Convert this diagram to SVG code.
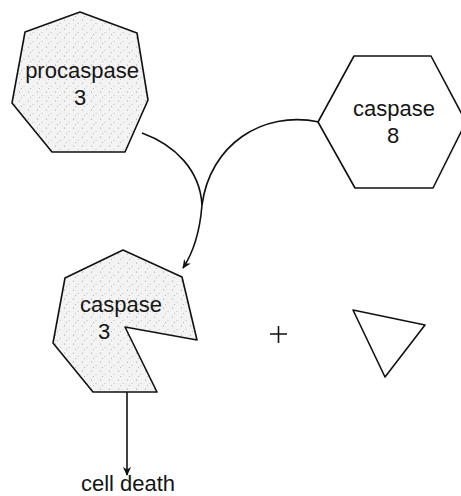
<svg xmlns="http://www.w3.org/2000/svg" width="461" height="496" viewBox="0 0 461 496">
  <style>
    .shape { stroke: #111; stroke-width: 1.6; stroke-linejoin: round; }
    .stip { fill: url(#stipple); }
    .plain { fill: #ffffff; }
    .lbl { font-family: "Liberation Sans", Arial, sans-serif; font-size: 22px; fill: #151515; text-anchor: middle; }
    .conn { fill: none; stroke: #111; stroke-width: 1.6; }
  </style>
  <defs>
    <!-- light speckled fill used for the enzyme shapes -->
    <pattern id="stipple" width="9" height="9" patternUnits="userSpaceOnUse">
      <rect width="9" height="9" fill="#f3f3f3"/>
      <circle cx="1.5" cy="2" r="0.6" fill="#9a9a9a"/>
      <circle cx="6" cy="5.5" r="0.5" fill="#b0b0b0"/>
      <circle cx="3.5" cy="7.5" r="0.5" fill="#a5a5a5"/>
    </pattern>
    <marker id="arrow" viewBox="0 0 10 10" refX="9" refY="5" markerWidth="9" markerHeight="9" markerUnits="userSpaceOnUse" orient="auto">
      <path d="M0,0.5 L10,5 L0,9.5 L3,5 Z" fill="#111"/>
    </marker>
  </defs>

  <g id="procaspase3">
    <polygon class="shape stip" points="80,12 137,33 148,100 125,152 52,152 12,103 25,32"/>
    <text class="lbl" x="82" y="78">procaspase</text>
    <text class="lbl" x="80" y="105">3</text>
  </g>

  <g id="caspase8">
    <polygon class="shape plain" points="318,122 354,56 431,56 466,122 433,188 355,188"/>
    <text class="lbl" x="394" y="116">caspase</text>
    <text class="lbl" x="393" y="143">8</text>
  </g>

  <g id="caspase3">
    <polygon class="shape stip" points="123,250 182,277 197,340 125,327 157,392 93,392 53,343 65,278"/>
    <text class="lbl" x="121" y="312">caspase</text>
    <text class="lbl" x="104" y="339">3</text>
  </g>

  <g id="plus">
    <path class="conn" d="M270,334 H287 M278.5,326 V343" stroke-width="1.3"/>
  </g>

  <g id="fragment">
    <polygon class="shape plain" points="353,310 425,325 385,377"/>
  </g>

  <g id="cell-death">
    <text class="lbl" x="128" y="491">cell death</text>
  </g>

  <g id="connectors">
    <path class="conn" d="M142,133 C175,145 200,170 202,205"/>
    <path class="conn" d="M319,122 C262,110 210,145 202,205 C200,230 195,250 183,268" marker-end="url(#arrow)"/>
    <path class="conn" d="M127,392 V475" marker-end="url(#arrow)"/>
  </g>
</svg>
